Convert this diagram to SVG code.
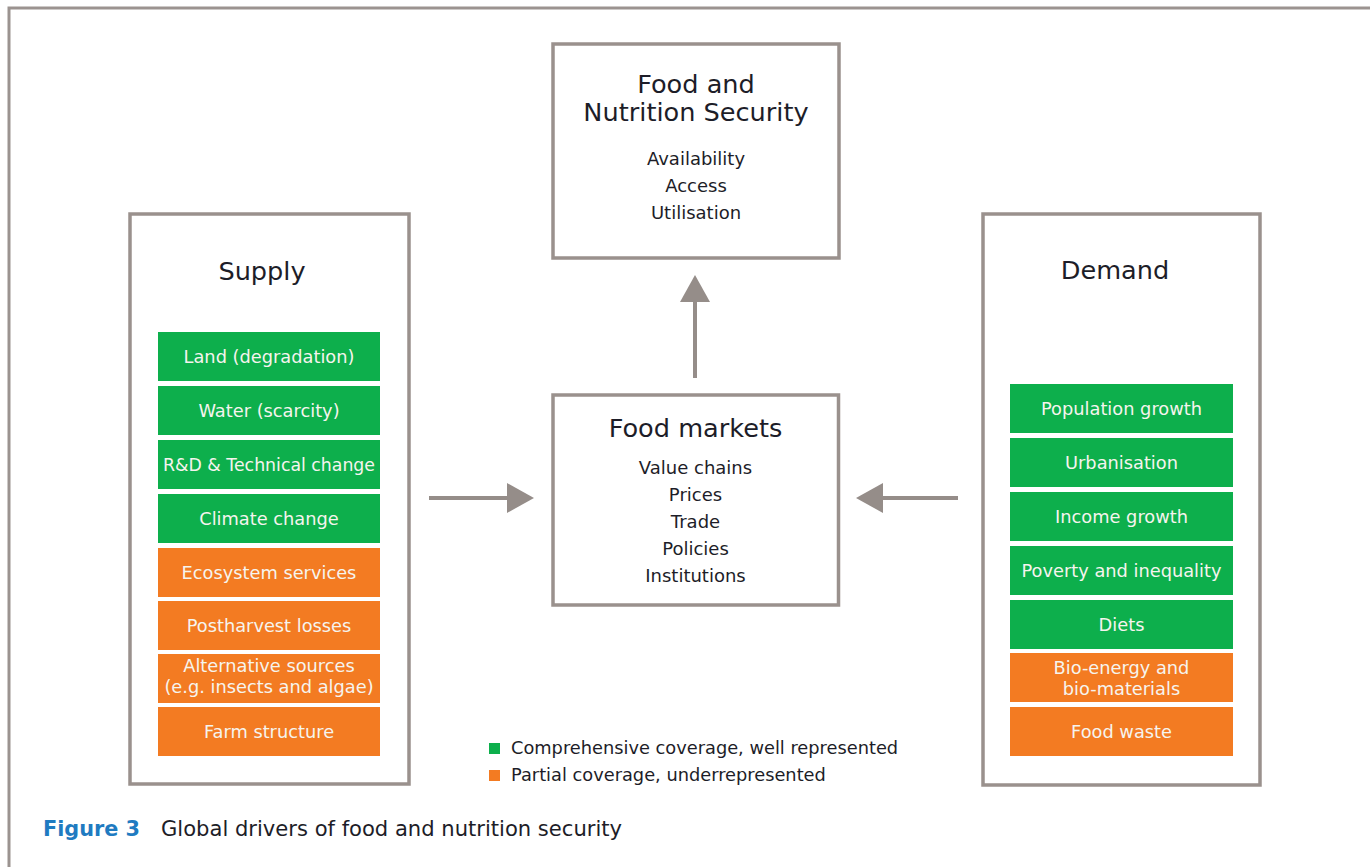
<svg xmlns="http://www.w3.org/2000/svg" width="1370" height="867" viewBox="0 0 1370 867">
  <style>
    .frame { fill: none; stroke: #9b9390; stroke-width: 3; }
    .panel { fill: #ffffff; stroke: #9a918d; stroke-width: 3.5; }
    .green { fill: #0daf4c; }
    .orange { fill: #f37b22; }
    .title { font-family: "DejaVu Sans", Verdana, sans-serif; font-size: 25.6px; fill: #1d1d28; text-anchor: middle; }
    .item { font-family: "DejaVu Sans", Verdana, sans-serif; font-size: 18px; fill: #1d1d28; text-anchor: middle; }
    .label { font-family: "DejaVu Sans", Verdana, sans-serif; font-size: 17.8px; fill: #f6f4ee; text-anchor: middle; }
    .legend { font-family: "DejaVu Sans", Verdana, sans-serif; font-size: 17.8px; fill: #1d1d28; }
    .caption { font-family: "DejaVu Sans Condensed", "DejaVu Sans", sans-serif; font-stretch: condensed; font-size: 21px; fill: #1d1d28; }
    .capnum { font-weight: bold; fill: #1f7bc1; }
    .link { stroke: #958d89; stroke-width: 4; fill: none; }
  </style>
  <defs>
    <marker id="head" markerUnits="userSpaceOnUse" markerWidth="28" markerHeight="30" refX="0" refY="15" orient="auto" viewBox="0 0 28 30">
      <path d="M0,0 L27,15 L0,30 Z" fill="#958d89"/>
    </marker>
  </defs>

  <rect width="1370" height="867" fill="#ffffff"/>
  <!-- page frame (open on the right and bottom) -->
  <path class="frame" d="M9,867 V8 H1370"/>

  <!-- Food and Nutrition Security -->
  <g id="fns">
    <rect class="panel" x="553" y="44" width="286" height="214"/>
    <text class="title" x="696" y="93">Food and</text>
    <text class="title" x="696" y="121">Nutrition Security</text>
    <text class="item" x="696" y="165">Availability</text>
    <text class="item" x="696" y="192">Access</text>
    <text class="item" x="696" y="219">Utilisation</text>
  </g>

  <!-- Food markets -->
  <g id="markets">
    <rect class="panel" x="553" y="395" width="285.5" height="210"/>
    <text class="title" x="695.5" y="437">Food markets</text>
    <text class="item" x="695.5" y="474">Value chains</text>
    <text class="item" x="695.5" y="501">Prices</text>
    <text class="item" x="695.5" y="528">Trade</text>
    <text class="item" x="695.5" y="555">Policies</text>
    <text class="item" x="695.5" y="582">Institutions</text>
  </g>

  <!-- Supply drivers -->
  <g id="supply">
    <rect class="panel" x="130" y="214" width="279" height="570"/>
    <text class="title" x="262" y="280">Supply</text>
    <g id="supply-land">
      <rect class="green" x="158" y="332" width="222" height="49"/>
      <text class="label" x="269" y="362.5">Land (degradation)</text>
    </g>
    <g id="supply-water">
      <rect class="green" x="158" y="386" width="222" height="49"/>
      <text class="label" x="269" y="416.5">Water (scarcity)</text>
    </g>
    <g id="supply-rd">
      <rect class="green" x="158" y="440" width="222" height="49"/>
      <text class="label" x="269" y="470.5" textLength="212" lengthAdjust="spacingAndGlyphs">R&amp;D &amp; Technical change</text>
    </g>
    <g id="supply-climate">
      <rect class="green" x="158" y="494" width="222" height="49"/>
      <text class="label" x="269" y="524.5">Climate change</text>
    </g>
    <g id="supply-ecosystem">
      <rect class="orange" x="158" y="548" width="222" height="49"/>
      <text class="label" x="269" y="578.5">Ecosystem services</text>
    </g>
    <g id="supply-postharvest">
      <rect class="orange" x="158" y="601" width="222" height="49"/>
      <text class="label" x="269" y="631.5">Postharvest losses</text>
    </g>
    <g id="supply-alternative">
      <rect class="orange" x="158" y="654" width="222" height="49"/>
      <text class="label" x="269" y="672">Alternative sources</text>
      <text class="label" x="269" y="693">(e.g. insects and algae)</text>
    </g>
    <g id="supply-farm">
      <rect class="orange" x="158" y="707" width="222" height="49"/>
      <text class="label" x="269" y="737.5">Farm structure</text>
    </g>
  </g>

  <!-- Demand drivers -->
  <g id="demand">
    <rect class="panel" x="983" y="214" width="277" height="571"/>
    <text class="title" x="1115" y="279">Demand</text>
    <g id="demand-population">
      <rect class="green" x="1010" y="384" width="223" height="49"/>
      <text class="label" x="1121.5" y="414.5">Population growth</text>
    </g>
    <g id="demand-urbanisation">
      <rect class="green" x="1010" y="438" width="223" height="49"/>
      <text class="label" x="1121.5" y="468.5">Urbanisation</text>
    </g>
    <g id="demand-income">
      <rect class="green" x="1010" y="492" width="223" height="49"/>
      <text class="label" x="1121.5" y="522.5">Income growth</text>
    </g>
    <g id="demand-poverty">
      <rect class="green" x="1010" y="546" width="223" height="49"/>
      <text class="label" x="1121.5" y="576.5">Poverty and inequality</text>
    </g>
    <g id="demand-diets">
      <rect class="green" x="1010" y="600" width="223" height="49"/>
      <text class="label" x="1121.5" y="630.5">Diets</text>
    </g>
    <g id="demand-bioenergy">
      <rect class="orange" x="1010" y="653" width="223" height="49"/>
      <text class="label" x="1121.5" y="674">Bio-energy and</text>
      <text class="label" x="1121.5" y="695">bio-materials</text>
    </g>
    <g id="demand-waste">
      <rect class="orange" x="1010" y="707" width="223" height="49"/>
      <text class="label" x="1121.5" y="737.5">Food waste</text>
    </g>
  </g>

  <!-- Connectors -->
  <g id="connectors">
    <line class="link" x1="429" y1="498" x2="507" y2="498" marker-end="url(#head)"/>
    <line class="link" x1="958" y1="498" x2="883" y2="498" marker-end="url(#head)"/>
    <line class="link" x1="695" y1="378" x2="695" y2="302" marker-end="url(#head)"/>
  </g>

  <!-- Legend -->
  <g id="legend">
    <rect class="green" x="489" y="743" width="11" height="11"/>
    <text class="legend" x="511" y="754">Comprehensive coverage, well represented</text>
    <rect class="orange" x="489" y="770" width="11" height="11"/>
    <text class="legend" x="511" y="781">Partial coverage, underrepresented</text>
  </g>

  <!-- Caption -->
  <g id="caption">
    <text class="caption capnum" x="43" y="836" textLength="97" lengthAdjust="spacingAndGlyphs">Figure 3</text>
    <text class="caption" x="161" y="836" textLength="461" lengthAdjust="spacingAndGlyphs">Global drivers of food and nutrition security</text>
  </g>
</svg>
